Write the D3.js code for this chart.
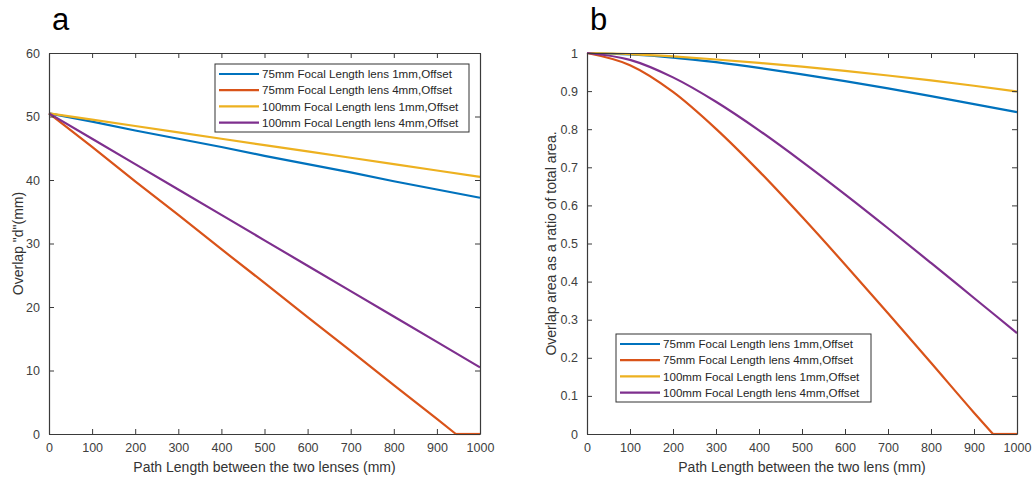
<!DOCTYPE html>
<html>
<head>
<meta charset="utf-8">
<script src="https://cdn.jsdelivr.net/npm/d3@7"></script>
<style>
  html, body { margin: 0; padding: 0; background: #fff; }
  svg { display: block; }
  text { font-family: "Liberation Sans", Arial, sans-serif; }
</style>
</head>
<body>
<svg id="chart" width="1032" height="479"></svg>
<script>
// Path length between the lenses (mm)
const pathLength = [0, 100, 200, 300, 400, 500, 600, 700, 800, 900, 1000];
// the 75mm / 4mm case runs out of overlap just before 950 mm
const pathLengthClipped = [0, 100, 200, 300, 400, 500, 600, 700, 800, 900, 944, 1000];

const seriesNames = [
  "75mm Focal Length lens 1mm,Offset",
  "75mm Focal Length lens 4mm,Offset",
  "100mm Focal Length lens 1mm,Offset",
  "100mm Focal Length lens 4mm,Offset"
];
const seriesColors = ["#0072BD", "#D95319", "#EDB120", "#7E2F8E"];

// Panel a: overlap "d" (mm)
const overlap75mm1 = [50.5, 49.2, 47.8, 46.5, 45.2, 43.8, 42.5, 41.2, 39.8, 38.5, 37.2];
const overlap75mm4 = [50.5, 45.2, 39.8, 34.5, 29.1, 23.8, 18.4, 13.1, 7.7, 2.4, 0, 0];
const overlap100mm1 = [50.5, 49.5, 48.5, 47.5, 46.5, 45.5, 44.5, 43.5, 42.5, 41.5, 40.5];
const overlap100mm4 = [50.5, 46.5, 42.5, 38.5, 34.5, 30.5, 26.5, 22.5, 18.5, 14.5, 10.5];

// Panel b: overlap area as a ratio of the total area
const ratio75mm1 = [1, 0.996, 0.988, 0.976, 0.961, 0.944, 0.926, 0.907, 0.887, 0.866, 0.845];
const ratio75mm4 = [1, 0.968, 0.898, 0.801, 0.690, 0.570, 0.445, 0.317, 0.187, 0.056, 0, 0];
const ratio100mm1 = [1, 0.997, 0.991, 0.983, 0.974, 0.964, 0.953, 0.941, 0.928, 0.914, 0.899];
const ratio100mm4 = [1, 0.982, 0.936, 0.872, 0.797, 0.715, 0.629, 0.540, 0.449, 0.357, 0.265];

const xTickValues = [0, 100, 200, 300, 400, 500, 600, 700, 800, 900, 1000];
const overlapTicks = [0, 10, 20, 30, 40, 50, 60];
const ratioTicks = [0, 0.1, 0.2, 0.3, 0.4, 0.5, 0.6, 0.7, 0.8, 0.9, 1];
const ratioTickLabels = ["0", "0.1", "0.2", "0.3", "0.4", "0.5", "0.6", "0.7", "0.8", "0.9", "1"];

const svg = d3.select("#chart");
const axisColor = "#3a3a3a";
const tickLen = 5;

function pairs(xs, ys) { return xs.map((x, i) => ({ x, y: ys[i] })); }

const panels = [
  {
    tag: "a", tagX: 52,
    left: 49, right: 480, top: 53, bottom: 434,
    yDomain: [0, 60], yTicks: overlapTicks, yFormat: d => String(d),
    yTitle: "Overlap \"d\"(mm)", yTitleX: 18,
    xTitle: "Path Length between the two lenses (mm)",
    curve: d3.curveLinear,
    series: [
      pairs(pathLength, overlap75mm1),
      pairs(pathLengthClipped, overlap75mm4),
      pairs(pathLength, overlap100mm1),
      pairs(pathLength, overlap100mm4)
    ],
    legend: { x: 215, y: 64, w: 254, h: 68 }
  },
  {
    tag: "b", tagX: 590,
    left: 587, right: 1017, top: 53, bottom: 434,
    yDomain: [0, 1], yTicks: ratioTicks, yFormat: (d, i) => ratioTickLabels[i],
    yTitle: "Overlap area as a ratio of total area.", yTitleX: 551,
    xTitle: "Path Length between the two lens (mm)",
    curve: d3.curveMonotoneX,
    series: [
      pairs(pathLength, ratio75mm1),
      pairs(pathLengthClipped, ratio75mm4),
      pairs(pathLength, ratio100mm1),
      pairs(pathLength, ratio100mm4)
    ],
    legend: { x: 616, y: 334, w: 255, h: 68 }
  }
];

panels.forEach(p => {
  const g = svg.append("g");
  const x = d3.scaleLinear().domain([0, 1000]).range([p.left, p.right]);
  const y = d3.scaleLinear().domain(p.yDomain).range([p.bottom, p.top]);

  // panel letter
  g.append("text")
    .attr("x", p.tagX).attr("y", 30)
    .attr("font-size", 31).attr("fill", "#000")
    .text(p.tag);

  // data lines (split where a series hits zero so the flat tail stays sharp)
  const smooth = d3.line().x(d => x(d.x)).y(d => y(d.y)).curve(p.curve);
  const straight = d3.line().x(d => x(d.x)).y(d => y(d.y));
  p.series.forEach((pts, si) => {
    const firstZero = pts.findIndex(d => d.y === 0);
    const parts = firstZero > 0 ? [pts.slice(0, firstZero + 1), pts.slice(firstZero)] : [pts];
    parts.forEach((part, k) => {
      g.append("path")
        .attr("d", (k === 0 ? smooth : straight)(part))
        .attr("fill", "none")
        .attr("stroke", seriesColors[si])
        .attr("stroke-width", 2.2)
        .attr("stroke-linejoin", "round");
    });
  });

  // axes with inward ticks on all four sides
  const bottomAxis = d3.axisBottom(x).tickValues(xTickValues).tickSizeInner(-tickLen).tickSizeOuter(0).tickPadding(9).tickFormat(d3.format("d"));
  const topAxis = d3.axisTop(x).tickValues(xTickValues).tickSizeInner(-tickLen).tickSizeOuter(0).tickFormat("");
  const leftAxis = d3.axisLeft(y).tickValues(p.yTicks).tickSizeInner(-tickLen).tickSizeOuter(0).tickPadding(9).tickFormat(p.yFormat);
  const rightAxis = d3.axisRight(y).tickValues(p.yTicks).tickSizeInner(-tickLen).tickSizeOuter(0).tickFormat("");

  const axes = [
    g.append("g").attr("transform", `translate(0,${p.bottom})`).call(bottomAxis),
    g.append("g").attr("transform", `translate(0,${p.top})`).call(topAxis),
    g.append("g").attr("transform", `translate(${p.left},0)`).call(leftAxis),
    g.append("g").attr("transform", `translate(${p.right},0)`).call(rightAxis)
  ];
  axes.forEach(a => {
    a.select(".domain").attr("stroke", axisColor).attr("stroke-width", 1.2);
    a.selectAll(".tick line").attr("stroke", axisColor).attr("stroke-width", 1);
    a.selectAll(".tick text").attr("fill", "#404040").attr("font-size", 12.5)
      .attr("font-family", "\"Liberation Sans\", Arial, sans-serif");
  });

  // axis titles
  g.append("text")
    .attr("x", (p.left + p.right) / 2).attr("y", 472)
    .attr("text-anchor", "middle").attr("font-size", 14).attr("fill", "#333")
    .text(p.xTitle);
  g.append("text")
    .attr("transform", `translate(${p.yTitleX},${(p.top + p.bottom) / 2}) rotate(-90)`)
    .attr("text-anchor", "middle").attr("dy", "0.35em").attr("font-size", 14).attr("fill", "#333")
    .text(p.yTitle);

  // legend
  const L = p.legend;
  const lg = g.append("g").attr("transform", `translate(${L.x},${L.y})`);
  lg.append("rect").attr("width", L.w).attr("height", L.h)
    .attr("fill", "#fff").attr("stroke", "#333").attr("stroke-width", 1);
  const rows = lg.selectAll("g.row").data(seriesNames).join("g")
    .attr("class", "row")
    .attr("transform", (d, i) => `translate(0,${10 + i * 16.2})`);
  rows.append("line").attr("x1", 4).attr("x2", 44).attr("y1", 0).attr("y2", 0)
    .attr("stroke", (d, i) => seriesColors[i]).attr("stroke-width", 2.2);
  rows.append("text").attr("x", 47).attr("y", 0).attr("dy", "0.36em")
    .attr("font-size", 11.6).attr("fill", "#262626")
    .text(d => d);
});
</script>
</body>
</html>
